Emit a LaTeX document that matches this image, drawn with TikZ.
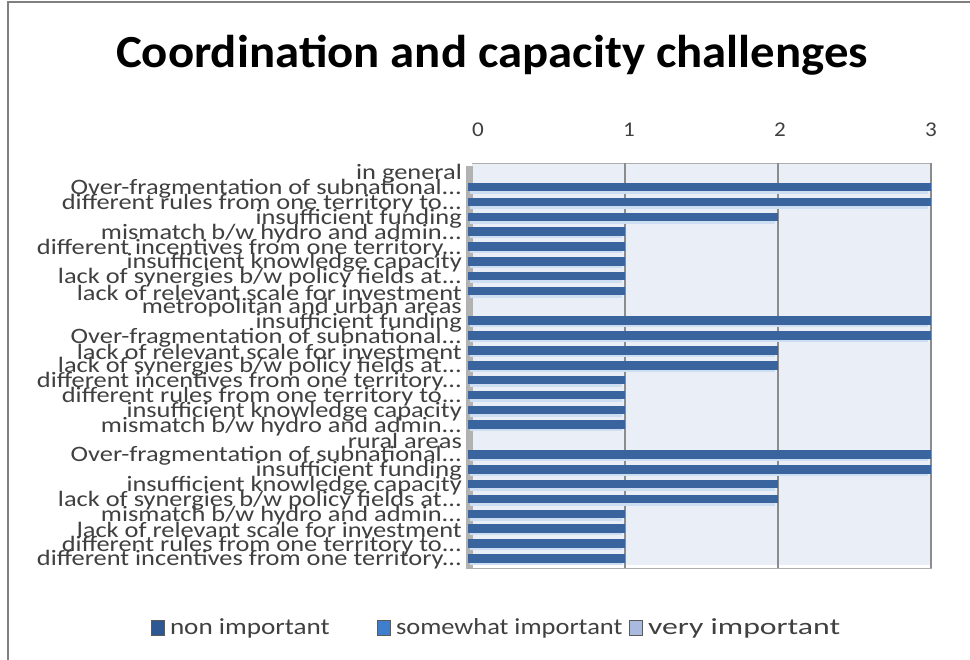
\documentclass[tikz,border=0pt]{standalone}
\usepackage{fontspec}
\setmainfont{Carlito}
\usepackage{xcolor}
\usepackage{graphicx}
\usetikzlibrary{positioning,calc}
\definecolor{barblue}{RGB}{58,100,158}
\definecolor{barlight}{RGB}{205,222,242}
\definecolor{plotbg}{RGB}{233,238,247}
\definecolor{gridgray}{RGB}{140,140,140}
\definecolor{labelgray}{RGB}{64,64,64}
\definecolor{nonimp}{RGB}{45,88,148}
\definecolor{someimp}{RGB}{62,126,204}
\definecolor{veryimp}{RGB}{170,186,222}

\newcommand{\widetext}[2]{\scalebox{#1}[1]{#2}}

\tikzset{
  catlabel/.style={anchor=east, inner sep=0pt, text=labelgray, font=\fontsize{22}{22}\selectfont},
  ticklabel/.style={inner sep=0pt, text=labelgray, font=\fontsize{21}{21}\selectfont},
  legendbox/.style={draw=gray!70!black, line width=0.6pt, minimum width=13pt, minimum height=15pt, inner sep=0pt},
  legendtext/.style={anchor=west, inner sep=0pt, text=labelgray, font=\fontsize{23}{23}\selectfont}
}

\begin{document}
\begin{tikzpicture}[x=1pt, y=-1pt]
    \useasboundingbox (0,0) rectangle (970,660);
    \fill[white] (0,0) rectangle (970,660);

    % Chart frame
    \draw[gray, line width=1.2pt] (8,662) -- (8,2) -- (972,2);

    % Title
    \node[font=\bfseries\fontsize{46}{46}\selectfont] (title) at (492,55) {\widetext{1.06}{Coordination and capacity challenges}};

    % Plot area
    \fill[plotbg] (472,163) rectangle (932,565);
    \fill[gray!60] (466,166) rectangle (473,568);
    \draw[gridgray!70] (472,163) -- (932,163);
    \draw[gridgray!70] (466,568) -- (932,568);
    \foreach \t in {1,2,3}
        \draw[gridgray, line width=1.1pt] ({472+153*\t},163) -- ({472+153*\t},568);

    % Axis labels
    \foreach \t in {0,1,2,3}
        \node[ticklabel] (tick\t) at ({478+151*\t},130) {\widetext{1.1}{\t}};

    % Categories and bars
    \foreach \val/\lbl [count=\i from 0] in {
        0/{in general},
        3/{Over-fragmentation of subnational...},
        3/{different rules from one territory to...},
        2/{insufficient funding},
        1/{mismatch b/w hydro and admin...},
        1/{different incentives from one territory...},
        1/{insufficient knowledge capacity},
        1/{lack of synergies b/w policy fields at...},
        1/{lack of relevant scale for investment},
        0/{metropolitan and urban areas},
        3/{insufficient funding},
        3/{Over-fragmentation of subnational...},
        2/{lack of relevant scale for investment},
        2/{lack of synergies b/w policy fields at...},
        1/{different incentives from one territory...},
        1/{different rules from one territory to...},
        1/{insufficient knowledge capacity},
        1/{mismatch b/w hydro and admin...},
        0/{rural areas},
        3/{Over-fragmentation of subnational...},
        3/{insufficient funding},
        2/{insufficient knowledge capacity},
        2/{lack of synergies b/w policy fields at...},
        1/{mismatch b/w hydro and admin...},
        1/{lack of relevant scale for investment},
        1/{different rules from one territory to...},
        1/{different incentives from one territory...}} {
        \pgfmathsetmacro{\ypos}{174+14.85*\i}
        \node[catlabel] (cat\i) at (462,\ypos) {\widetext{1.2}{\lbl}};
        \ifnum\val>0
            \fill[barblue] (468,\ypos-6) rectangle ({472+153*\val},\ypos+2.5);
            \fill[barlight] (470,\ypos+2.5) rectangle ({472+153*\val-3},\ypos+5);
        \fi
    }

    % Legend
    \node[legendbox, fill=nonimp] (lnon) at (158,628) {};
    \node[legendtext, right=5pt of lnon] (tnon) {\widetext{1.18}{non important}};
    \node[legendbox, fill=someimp] (lsome) at (384,628) {};
    \node[legendtext, right=5pt of lsome] (tsome) {\widetext{1.15}{somewhat important}};
    \node[legendbox, fill=veryimp] (lvery) at (636,628) {};
    \node[legendtext, right=5pt of lvery] (tvery) {\widetext{1.38}{very important}};
\end{tikzpicture}
\end{document}
